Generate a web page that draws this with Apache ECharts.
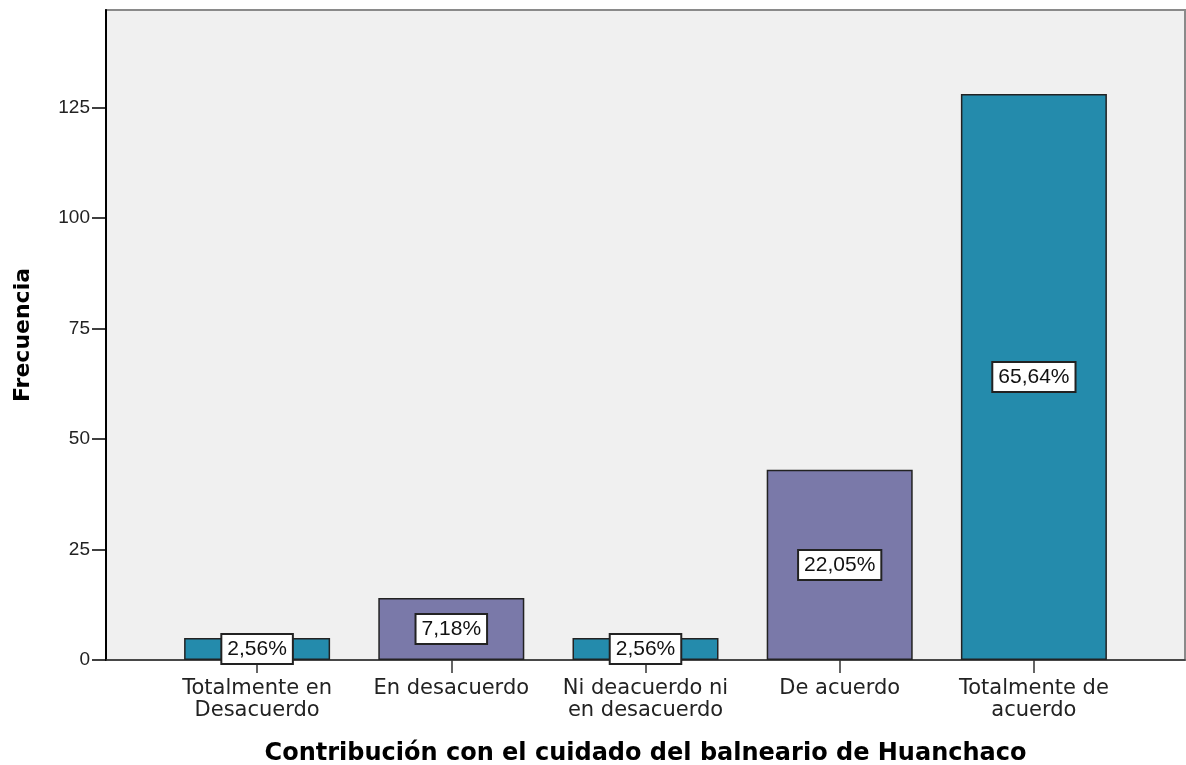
<!DOCTYPE html>
<html>
<head>
<meta charset="utf-8">
<script src="https://cdn.jsdelivr.net/npm/echarts@6/dist/echarts.min.js"></script>
<style>
  html, body { margin: 0; padding: 0; background: #fff; }
  #chart { width: 1186px; height: 765px; }
</style>
</head>
<body>
<div id="chart"></div>
<script>
// datos
var categories = ['Totalmente en\nDesacuerdo', 'En desacuerdo', 'Ni deacuerdo ni\nen desacuerdo', 'De acuerdo', 'Totalmente de\nacuerdo']
var frecuencias = [5, 14, 5, 43, 128]
var porcentajes = ['2,56%', '7,18%', '2,56%', '22,05%', '65,64%']
var yTicks = [0, 25, 50, 75, 100, 125]
var yMax = 147

var barColors = ['#248bac', '#7a79a9', '#248bac', '#7a79a9', '#248bac']
var font = 'DejaVu Sans'
var numFont = 'Liberation Sans'

var chart = echarts.init(document.getElementById('chart'))
var option = {
  animation: false,
  grid: [
    { // marco del grafico
      left: 106, right: 1, top: 10, bottom: 105,
      outerBoundsMode: 'none',
      containLabel: false,
      show: true,
      backgroundColor: '#f0f0f0',
      borderColor: '#8a8a8a',
      borderWidth: 2
    },
    { // barras
      left: 160, right: 55, top: 10, bottom: 105,
      outerBoundsMode: 'none',
      containLabel: false
    }
  ],
  xAxis: [
    {
      gridIndex: 0,
      type: 'value',
      min: 0,
      max: 1,
      axisLabel: { show: false },
      axisTick: { show: false },
      splitLine: { show: false },
      axisLine: { show: true, lineStyle: { color: '#333', width: 1.5 } }
    },
    {
      gridIndex: 1,
      type: 'category',
      data: categories,
      axisLine: { show: false },
      axisTick: { show: true, alignWithLabel: true, length: 13, lineStyle: { color: '#333', width: 1.5 } },
      axisLabel: {
        margin: 18,
        color: '#222',
        fontFamily: font,
        fontSize: 21,
        lineHeight: 22,
        interval: 0
      },
      name: 'Contribución con el cuidado del balneario de Huanchaco',
      nameLocation: 'middle',
      nameGap: 82,
      nameTextStyle: { color: '#000', fontFamily: font, fontWeight: 'bold', fontSize: 24 }
    }
  ],
  yAxis: [
    {
      gridIndex: 0,
      type: 'value',
      min: 0,
      max: yMax,
      splitLine: { show: false },
      axisLine: { show: true, lineStyle: { color: '#000', width: 2 } },
      axisTick: { show: true, length: 14, customValues: yTicks, lineStyle: { color: '#000', width: 1.5 } },
      axisLabel: {
        customValues: yTicks,
        margin: 16,
        color: '#222',
        fontFamily: numFont,
        fontSize: 19
      },
      name: 'Frecuencia',
      nameLocation: 'middle',
      nameGap: 72,
      nameTextStyle: { color: '#000', fontFamily: font, fontWeight: 'bold', fontSize: 22 }
    },
    {
      gridIndex: 1,
      type: 'value',
      min: 0,
      max: yMax,
      show: false
    }
  ],
  series: [
    {
      type: 'bar',
      xAxisIndex: 1,
      yAxisIndex: 1,
      barWidth: 146,
      data: frecuencias.map(function (v, i) {
        return { value: v, itemStyle: { color: barColors[i] } }
      }),
      itemStyle: { borderColor: '#222', borderWidth: 1.5 },
      label: {
        show: true,
        position: 'inside',
        formatter: function (p) { return porcentajes[p.dataIndex] },
        color: '#111',
        fontFamily: numFont,
        fontSize: 21,
        lineHeight: 21,
        backgroundColor: '#fff',
        borderColor: '#222',
        borderWidth: 2,
        padding: [4, 5, 3, 5]
      }
    }
  ]
}
chart.setOption(option)
</script>
</body>
</html>
